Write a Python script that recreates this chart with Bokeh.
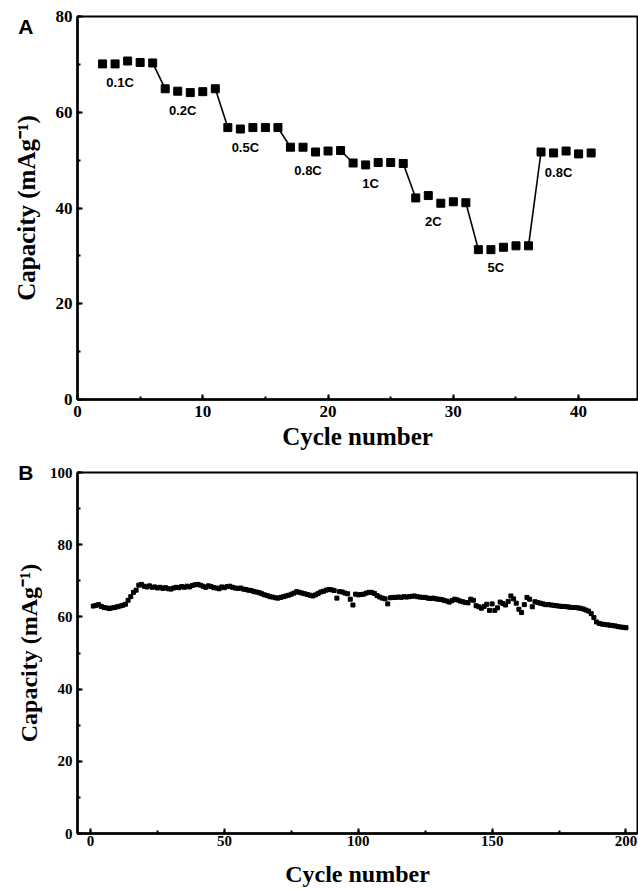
from bokeh.plotting import figure
from bokeh.layouts import column
from bokeh.models import Range1d, SingleIntervalTicker, FixedTicker, LinearAxis, ColumnDataSource
from bokeh.embed import file_html
from bokeh.resources import INLINE
from bokeh.core.properties import value

# ---------------- Panel A: rate capability ----------------
cycles_a = list(range(2, 42))
capacity_a = [
    70.1, 70.1, 70.7, 70.4, 70.3,   # 0.1C
    64.9, 64.4, 64.1, 64.3, 64.9,   # 0.2C
    56.8, 56.5, 56.8, 56.8, 56.8,   # 0.5C
    52.7, 52.7, 51.7, 51.9, 52.0,   # 0.8C
    49.4, 49.0, 49.5, 49.5, 49.3,   # 1C
    42.1, 42.6, 41.0, 41.3, 41.1,   # 2C
    31.3, 31.3, 31.8, 32.1, 32.1,   # 5C
    51.7, 51.5, 51.9, 51.3, 51.5,   # 0.8C
]
rate_labels = ["0.1C", "0.2C", "0.5C", "0.8C", "1C", "2C", "5C", "0.8C"]
cycles_per_rate = 5

# ---------------- Panel B: cycling at 0.1C ----------------
cycles_b = list(range(1, 201))
capacity_b = [
    63.0, 63.2, 63.4, 62.9, 62.6, 62.5, 62.3, 62.5, 62.6, 62.8,
    63.0, 63.2, 63.5, 64.6, 65.6, 66.8, 67.4, 68.8, 69.0, 68.5,
    68.3, 68.6, 68.2, 68.3, 68.0, 68.2, 67.9, 68.1, 67.8, 67.7,
    68.0, 68.2, 68.1, 68.4, 68.2, 68.5, 68.3, 68.7, 68.9, 69.0,
    68.8, 68.5, 68.2, 68.6, 68.4, 68.1, 68.0, 67.8, 68.3, 68.1,
    68.4, 68.5, 68.2, 68.0, 67.9, 68.0, 67.7, 67.6, 67.4, 67.3,
    67.0, 66.9, 66.7, 66.4, 66.1, 65.9, 65.6, 65.5, 65.3, 65.2,
    65.4, 65.6, 65.8, 66.0, 66.3, 66.6, 67.0, 66.8, 66.6, 66.4,
    66.2, 66.0, 65.8, 66.1, 66.5, 66.9, 67.1, 67.4, 67.6, 67.5,
    67.3, 65.2, 67.0, 66.9, 66.6, 66.4, 64.9, 63.3, 66.3, 66.1,
    66.2, 66.3, 66.6, 66.8, 66.8, 66.5, 65.9, 65.5, 65.2, 65.0,
    63.6, 65.3, 65.4, 65.4, 65.5, 65.4, 65.6, 65.5, 65.6, 65.7,
    65.8, 65.6, 65.5, 65.4, 65.4, 65.2, 65.1, 65.2, 65.0, 64.9,
    64.8, 64.6, 64.4, 64.1, 64.5, 64.9, 64.7, 64.4, 64.2, 64.0,
    63.9, 64.9, 64.6, 63.1, 62.8, 62.4, 62.9, 63.5, 61.8, 63.6,
    61.8, 62.5, 64.1, 63.7, 63.3, 64.3, 65.8, 65.0, 63.8, 62.1,
    61.2, 63.4, 65.4, 64.9, 62.8, 64.2, 64.0, 63.8, 63.6, 63.4,
    63.4, 63.3, 63.2, 63.1, 63.0, 62.9, 62.9, 62.8, 62.7, 62.6,
    62.6, 62.5, 62.4, 62.2, 61.9, 61.6, 60.9, 59.8, 58.6, 58.2,
    58.0, 57.9, 57.8, 57.7, 57.6, 57.5, 57.3, 57.2, 57.1, 57.0,
]

SERIF = "Liberation Serif"
SANS = "Liberation Sans"
Y_TITLE = "Capacity (mAg\u207b\u00b9)"


def style(p, xint, yint, tick_size, title_size, lab_standoff_x, title_standoff_x, lab_standoff_y):
    p.xgrid.visible = False
    p.ygrid.visible = False
    p.outline_line_color = "black"
    p.outline_line_width = 2
    p.background_fill_color = "white"
    p.border_fill_color = "white"
    p.xaxis.ticker = SingleIntervalTicker(interval=xint, num_minor_ticks=2)
    p.yaxis.ticker = SingleIntervalTicker(interval=yint, num_minor_ticks=2)
    for ax in (p.xaxis[0], p.yaxis[0]):
        ax.axis_line_width = 2.5
        ax.axis_line_color = "black"
        ax.major_tick_in = 5
        ax.major_tick_out = 0
        ax.minor_tick_in = 3
        ax.minor_tick_out = 0
        ax.major_tick_line_width = 2
        ax.minor_tick_line_width = 2
        ax.major_label_text_font = SERIF
        ax.major_label_text_font_style = "bold"
        ax.major_label_text_font_size = f"{tick_size}px"
        ax.major_label_text_color = "black"
        ax.axis_label_text_font = SERIF
        ax.axis_label_text_font_style = "bold"
        ax.axis_label_text_font_size = f"{title_size}px"
        ax.axis_label_text_color = "black"
    p.xaxis.major_label_standoff = lab_standoff_x
    p.xaxis.axis_label_standoff = title_standoff_x
    p.yaxis.major_label_standoff = lab_standoff_y


def outer_left_axis(p, letter, letter_at, letter_standoff, title_size, title_standoff):
    """Outer left axis: carries the panel letter (as its only tick label) and the y title."""
    ax = LinearAxis(ticker=FixedTicker(ticks=[letter_at], minor_ticks=[]),
                    major_label_overrides={letter_at: letter})
    ax.axis_line_color = None
    ax.major_tick_line_color = None
    ax.minor_tick_line_color = None
    ax.major_tick_in = 0
    ax.major_tick_out = 0
    ax.major_label_standoff = letter_standoff
    ax.major_label_text_font = SANS
    ax.major_label_text_font_style = "bold"
    ax.major_label_text_font_size = "21px"
    ax.major_label_text_color = "black"
    ax.axis_label = Y_TITLE
    ax.axis_label_text_font = SERIF
    ax.axis_label_text_font_style = "bold"
    ax.axis_label_text_font_size = f"{title_size}px"
    ax.axis_label_text_color = "black"
    ax.axis_label_standoff = title_standoff
    p.add_layout(ax, "left")


# ---- figure A ----
pa = figure(width=638, height=455, output_backend="svg", toolbar_location=None,
            x_range=Range1d(0, 44.7), y_range=Range1d(0, 80),
            min_border_left=77, min_border_right=1, min_border_top=16, min_border_bottom=56)
pa.xaxis.axis_label = "Cycle number"
style(pa, 10, 20, 17, 25, 6, 3, 5)
outer_left_axis(pa, "A", 78, 19, 25, -25)

# connecting segments between successive rate steps
n_groups = len(rate_labels)
seg_x0, seg_y0, seg_x1, seg_y1 = [], [], [], []
for g in range(n_groups - 1):
    i_last = (g + 1) * cycles_per_rate - 1
    seg_x0.append(cycles_a[i_last]); seg_y0.append(capacity_a[i_last])
    seg_x1.append(cycles_a[i_last + 1]); seg_y1.append(capacity_a[i_last + 1])
pa.segment(x0=seg_x0, y0=seg_y0, x1=seg_x1, y1=seg_y1, line_color="black", line_width=1.6)
pa.scatter(cycles_a, capacity_a, marker="square", size=8, fill_color="black", line_color="black")

# rate labels under each step
lab_x, lab_y = [], []
for g in range(n_groups):
    xs = cycles_a[g * cycles_per_rate:(g + 1) * cycles_per_rate]
    ys = capacity_a[g * cycles_per_rate:(g + 1) * cycles_per_rate]
    lab_x.append(sum(xs) / len(xs) - 0.6)
    lab_y.append(min(ys) - 3.8)
src = ColumnDataSource(dict(x=lab_x, y=lab_y, t=rate_labels))
pa.text(x="x", y="y", text="t", source=src, text_font=value(SANS), text_font_style="bold",
        text_font_size="13px", text_align="center", text_baseline="middle", text_color="black")

# ---- figure B ----
pb = figure(width=638, height=434, output_backend="svg", toolbar_location=None,
            x_range=Range1d(-4.9, 204.3), y_range=Range1d(0, 100),
            min_border_left=77, min_border_right=1, min_border_top=17, min_border_bottom=56)
pb.xaxis.axis_label = "Cycle number"
style(pb, 50, 20, 15, 24, 2, 12, 5)
outer_left_axis(pb, "B", 100, 13, 24, -27)
pb.scatter(cycles_b, capacity_b, marker="square", size=4, fill_color="black", line_color="black")

layout = column(pa, pb, spacing=0)
open("out.html", "w").write(file_html(layout, INLINE))
